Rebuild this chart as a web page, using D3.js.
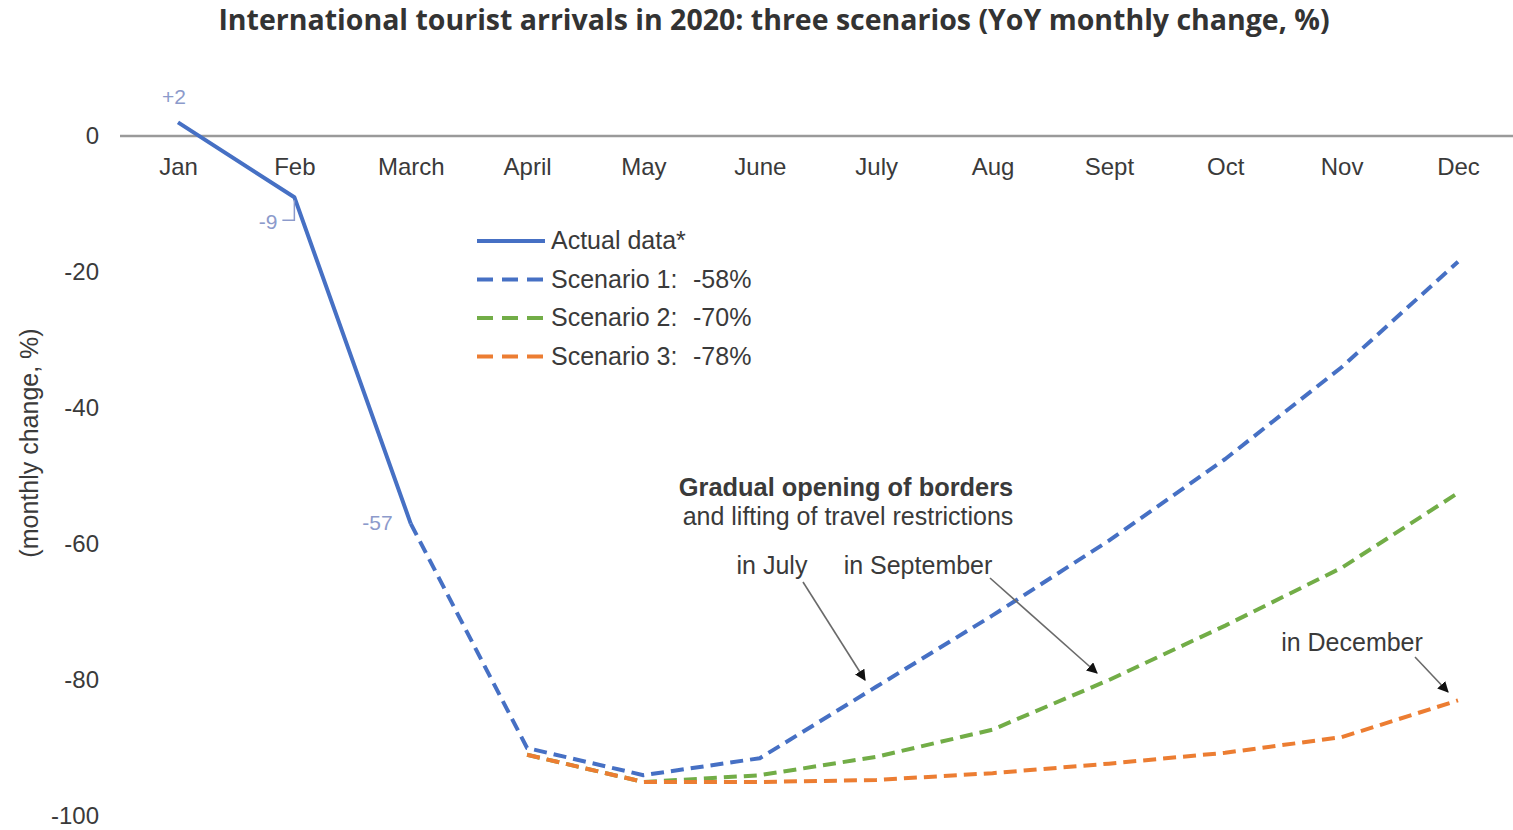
<!DOCTYPE html>
<html>
<head>
<meta charset="utf-8">
<script src="https://cdn.jsdelivr.net/npm/d3@7"></script>
<style>
  html, body { margin: 0; padding: 0; background: #fff; }
  svg { display: block; }
  text { font-family: "Liberation Sans", Arial, sans-serif; }
</style>
</head>
<body>
<svg id="chart" width="1513" height="830"></svg>
<script>
// ---- data ----
const months = ["Jan", "Feb", "March", "April", "May", "June", "July", "Aug", "Sept", "Oct", "Nov", "Dec"];
const yTicks = [0, -20, -40, -60, -80, -100];
const actual = [2, -9, -57, null, null, null, null, null, null, null, null, null];
const scenario1 = [null, null, -57, -90, -94, -91.5, -81, -70.5, -59.5, -47.5, -34, -18.5];
const scenario2 = [null, null, null, -91, -95, -94, -91.3, -87.3, -80, -72, -63.5, -52.5];
const scenario3 = [null, null, null, -91, -95, -95, -94.7, -93.7, -92.3, -90.7, -88.4, -83];
const legendLabels = ["Actual data*", "Scenario 1:", "Scenario 2:", "Scenario 3:"];
const legendValues = ["", "-58%", "-70%", "-78%"];
const pointLabels = ["+2", "-9", "-57"];
const titleText = "International tourist arrivals in 2020: three scenarios (YoY monthly change, %)";

const colors = { blue: "#4670c4", green: "#72ad47", orange: "#ec7d32" };
const labelColor = "#8c9acb";
const textColor = "#3a3a3a";

const svg = d3.select("#chart");

const x = d3.scalePoint().domain(months).range([178, 1458]);
const y = d3.scaleLinear().domain([-100, 0]).range([816, 136]);

// title
svg.append("text")
  .attr("x", 774).attr("y", 30)
  .attr("text-anchor", "middle")
  .style("font-family", "'Open Sans', sans-serif")
  .style("font-weight", "700")
  .style("font-size", "28.5px")
  .attr("fill", "#333")
  .text(titleText);

// y axis label
svg.append("text")
  .attr("transform", "translate(38,443) rotate(-90)")
  .attr("text-anchor", "middle")
  .style("font-size", "25px")
  .attr("fill", textColor)
  .text("(monthly change, %)");

// y axis
const yAxis = svg.append("g")
  .attr("transform", "translate(120,0)")
  .call(d3.axisLeft(y).tickValues(yTicks).tickSize(0).tickPadding(21).tickFormat(d => String(d)));
yAxis.select(".domain").remove();
yAxis.selectAll("text").style("font-size", "24px").style("font-family", "'Liberation Sans', Arial, sans-serif").attr("fill", textColor);

// zero line
svg.append("line")
  .attr("x1", 120).attr("x2", 1513)
  .attr("y1", y(0)).attr("y2", y(0))
  .attr("stroke", "#9a9a9a").attr("stroke-width", 2.5);

// x axis labels
const xAxis = svg.append("g")
  .attr("transform", `translate(0,${y(0)})`)
  .call(d3.axisBottom(x).tickSize(0).tickPadding(22));
xAxis.select(".domain").remove();
xAxis.selectAll("text").style("font-size", "24px").style("font-family", "'Liberation Sans', Arial, sans-serif").attr("fill", textColor);

// lines
const line = d3.line()
  .defined(d => d.v !== null)
  .x(d => x(d.m))
  .y(d => y(d.v));
const toPts = arr => arr.map((v, i) => ({ m: months[i], v: v }));

const series = [
  { data: scenario1, color: colors.blue, dash: "13,7" },
  { data: scenario2, color: colors.green, dash: "13,7" },
  { data: scenario3, color: colors.orange, dash: "13,7" },
  { data: actual, color: colors.blue, dash: null }
];
series.forEach(s => {
  svg.append("path")
    .datum(toPts(s.data))
    .attr("d", line)
    .attr("fill", "none")
    .attr("stroke", s.color)
    .attr("stroke-width", 4)
    .attr("stroke-linejoin", "round")
    .attr("stroke-dasharray", s.dash);
});

// point labels
svg.append("text").attr("x", x("Jan") - 4).attr("y", y(actual[0]) - 18)
  .attr("text-anchor", "middle").style("font-size", "21px").attr("fill", labelColor).text(pointLabels[0]);
svg.append("text").attr("x", x("Feb") - 17).attr("y", y(actual[1]) + 32)
  .attr("text-anchor", "end").style("font-size", "21px").attr("fill", labelColor).text(pointLabels[1]);
svg.append("path")
  .attr("d", `M${x("Feb") - 12},${y(actual[1]) + 23} H${x("Feb")} V${y(actual[1]) + 3}`)
  .attr("fill", "none").attr("stroke", labelColor).attr("stroke-width", 1.5);
svg.append("text").attr("x", x("March") - 18).attr("y", y(actual[2]) + 6)
  .attr("text-anchor", "end").style("font-size", "21px").attr("fill", labelColor).text(pointLabels[2]);

// legend
const legend = svg.append("g").attr("transform", "translate(477,241)");
legendLabels.forEach((lab, i) => {
  const g = legend.append("g").attr("transform", `translate(0,${i * 38.5})`);
  const col = [colors.blue, colors.blue, colors.green, colors.orange][i];
  g.append("line").attr("x1", 0).attr("x2", i === 0 ? 68 : 66).attr("y1", 0).attr("y2", 0)
    .attr("stroke", col).attr("stroke-width", 4)
    .attr("stroke-dasharray", i === 0 ? null : "16,9");
  g.append("text").attr("x", 74).attr("y", 8).style("font-size", "25px").attr("fill", textColor).text(lab);
  if (legendValues[i]) {
    g.append("text").attr("x", 216).attr("y", 8).style("font-size", "25px").attr("fill", textColor).text(legendValues[i]);
  }
});

// annotations
svg.append("text").attr("x", 846).attr("y", 496).attr("text-anchor", "middle")
  .style("font-size", "25.4px").style("font-weight", "700").attr("fill", textColor).text("Gradual opening of borders");
svg.append("text").attr("x", 848).attr("y", 525).attr("text-anchor", "middle")
  .style("font-size", "25px").attr("fill", textColor).text("and lifting of travel restrictions");
svg.append("text").attr("x", 772).attr("y", 574).attr("text-anchor", "middle")
  .style("font-size", "25px").attr("fill", textColor).text("in July");
svg.append("text").attr("x", 918).attr("y", 574).attr("text-anchor", "middle")
  .style("font-size", "25px").attr("fill", textColor).text("in September");
svg.append("text").attr("x", 1352).attr("y", 651).attr("text-anchor", "middle")
  .style("font-size", "25px").attr("fill", textColor).text("in December");

// arrows
const defs = svg.append("defs");
defs.append("marker")
  .attr("id", "arrow").attr("viewBox", "0 0 10 10")
  .attr("refX", 9).attr("refY", 5)
  .attr("markerWidth", 11).attr("markerHeight", 11)
  .attr("markerUnits", "userSpaceOnUse")
  .attr("orient", "auto")
  .append("path").attr("d", "M0,0 L10,5 L0,10 Z").attr("fill", "#111");
[
  [803, 582, 865, 680],
  [990, 578, 1097, 673],
  [1415, 657, 1448, 692]
].forEach(a => {
  svg.append("line")
    .attr("x1", a[0]).attr("y1", a[1]).attr("x2", a[2]).attr("y2", a[3])
    .attr("stroke", "#6a6a6a").attr("stroke-width", 1.6)
    .attr("marker-end", "url(#arrow)");
});
</script>
</body>
</html>
